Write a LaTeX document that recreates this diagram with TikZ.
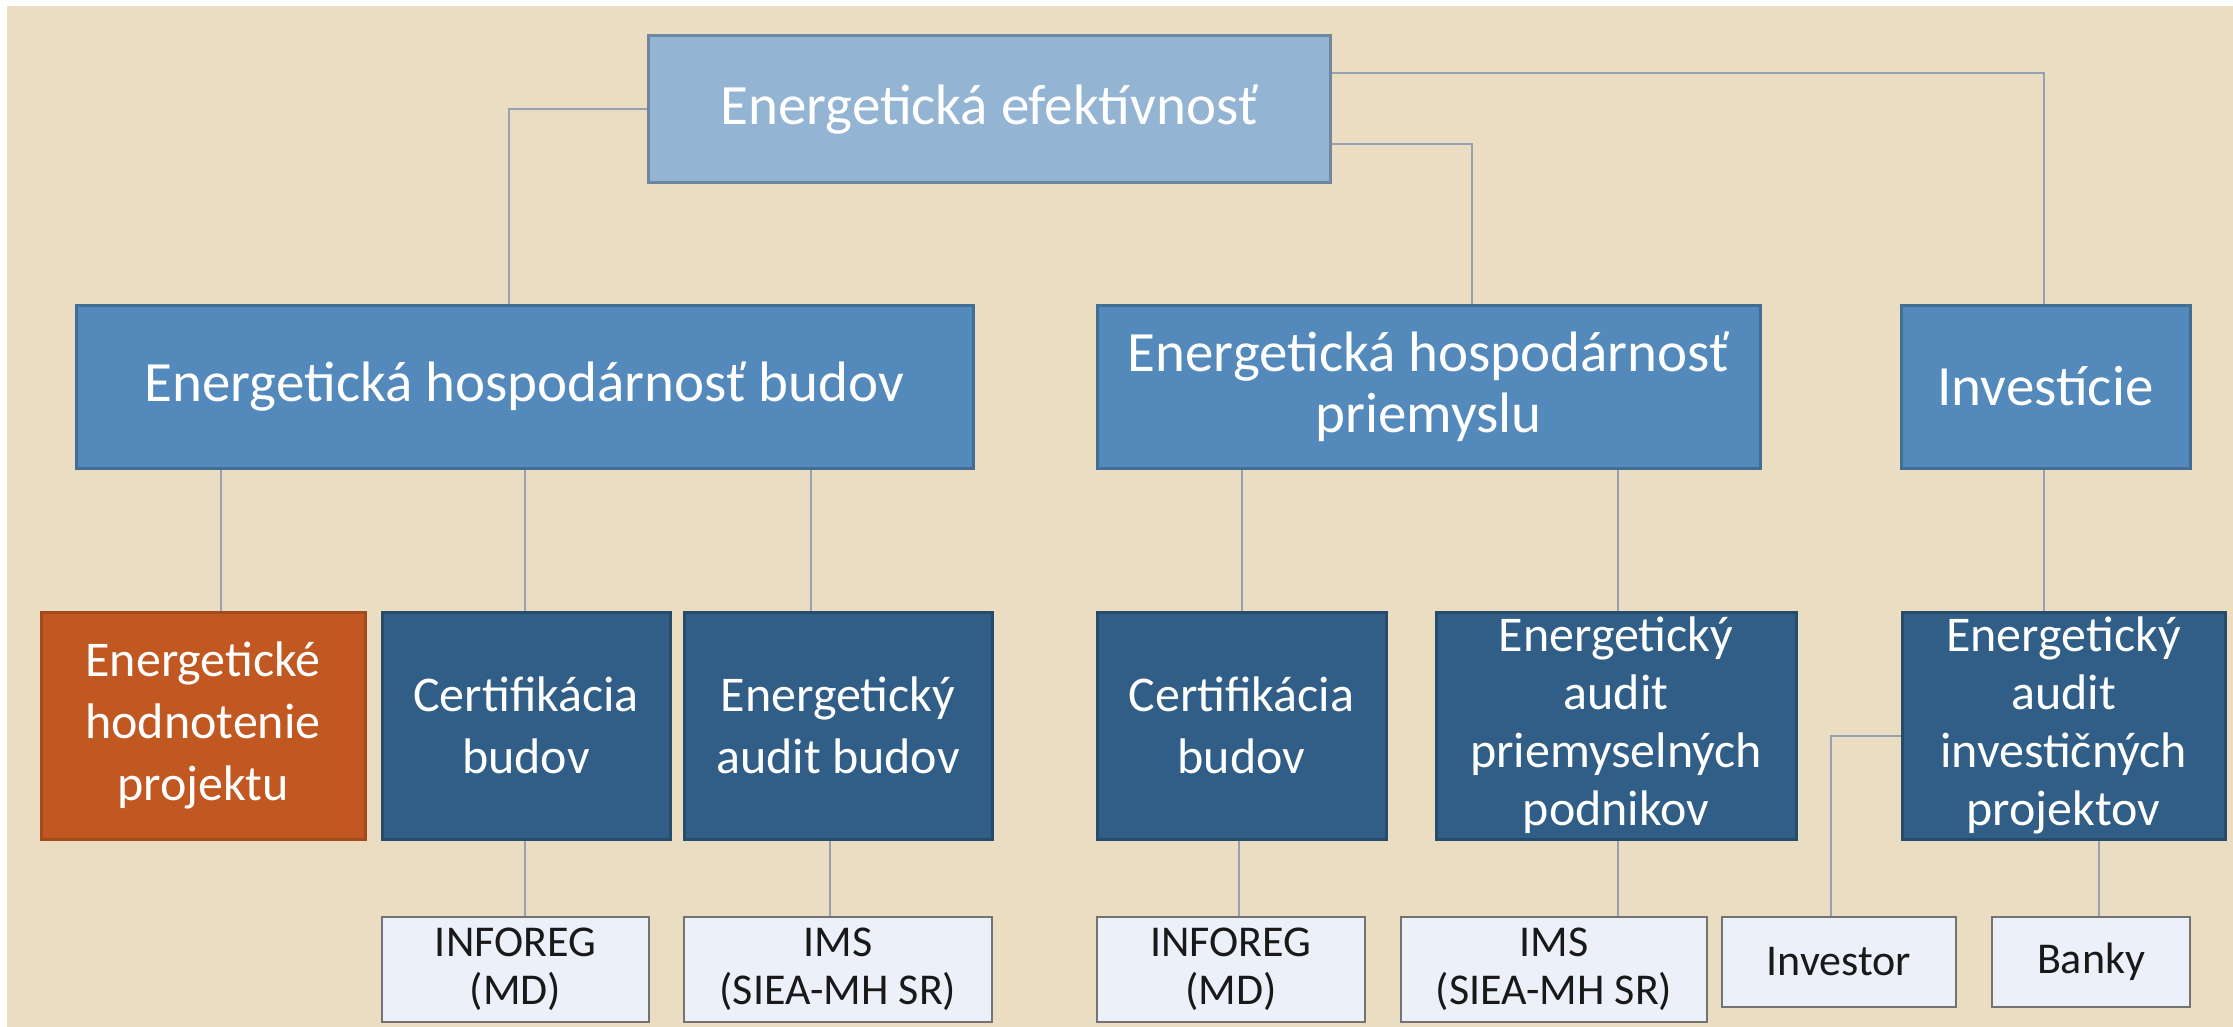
\documentclass[tikz,border=0pt]{standalone}
\usepackage{fontspec}
\setmainfont{Carlito}

\definecolor{paper}{RGB}{234,221,193}
\definecolor{rootblue}{RGB}{148,180,211}
\definecolor{midblue}{RGB}{83,137,187}
\definecolor{deepblue}{RGB}{48,94,134}
\definecolor{rust}{RGB}{193,88,34}
\definecolor{pale}{RGB}{236,241,249}
\definecolor{link}{RGB}{150,162,178}

\tikzset{
	box/.style={shape=rectangle, inner sep=0pt, align=center, line width=3pt},
	toplevel/.style={box, fill=rootblue, draw=rootblue!75!black, text=white, minimum height=147, font=\fontsize{57}{61}\selectfont},
	area/.style={box, fill=midblue, draw=midblue!80!black, text=white, minimum height=163, font=\fontsize{57}{61}\selectfont},
	task/.style={box, fill=deepblue, draw=deepblue!80!black, text=white, minimum height=227, font=\fontsize{50}{62}\selectfont},
	hot/.style={task, fill=rust, draw=rust!85!black},
	office/.style={box, fill=pale, draw=black!55, text=black!90, line width=2.5pt, font=\fontsize{44}{48}\selectfont},
	wire/.style={draw=link, line width=2pt}
}

\begin{document}
\begin{tikzpicture}[x=1pt,y=-1pt]
	\fill[white] (0,0) rectangle (2233,1027);
	\fill[paper] (7,6) rectangle (2233,1027);

	\node[toplevel, minimum width=682] (eef) at (989,109.5) {Energetická efektívnosť};

	\node[area, minimum width=897] (ehb) at (524.5,386.5) {Energetická hospodárnosť budov};
	\node[area, minimum width=663] (ehp) at (1428.5,386.5) {Energetická hospodárnosť\\priemyslu};
	\node[area, minimum width=289] (inv) at (2045.5,386.5) {Investície};

	\node[hot, minimum width=324] (ehpr) at (203,725.5) {Energetické\\hodnotenie\\projektu};
	\node[task, minimum width=288] (cb1) at (526,725.5) {Certifikácia\\budov};
	\node[task, minimum width=308] (eab) at (838,725.5) {Energetický\\audit budov};
	\node[task, minimum width=289] (cb2) at (1241.5,725.5) {Certifikácia\\budov};
	\node[task, minimum width=360, font=\fontsize{50}{58}\selectfont] (eapp) at (1616,725.5) {Energetický\\audit\\priemyselných\\podnikov};
	\node[task, minimum width=323, font=\fontsize{50}{58}\selectfont] (eaip) at (2063.5,725.5) {Energetický\\audit\\investičných\\projektov};

	\node[office, minimum width=267, minimum height=105] (inf1) at (515.5,969.5) {INFOREG\\(MD)};
	\node[office, minimum width=308, minimum height=105] (ims1) at (838,969.5) {IMS\\(SIEA-MH SR)};
	\node[office, minimum width=268, minimum height=105] (inf2) at (1231,969.5) {INFOREG\\(MD)};
	\node[office, minimum width=306, minimum height=105] (ims2) at (1554,969.5) {IMS\\(SIEA-MH SR)};
	\node[office, minimum width=234, minimum height=90] (ivr) at (1839,962) {Investor};
	\node[office, minimum width=198, minimum height=90] (bnk) at (2091,962) {Banky};

	% top level
	\draw[wire] (eef.west) -| ([xshift=-16pt]ehb.north);
	\draw[wire] ([yshift=-35pt]eef.east) -| ([xshift=43.5pt]ehp.north);
	\draw[wire] ([yshift=36.5pt]eef.east) -| ([xshift=-1.5pt]inv.north);

	% second level
	\draw[wire] ([xshift=18pt]ehpr.north) -- ([xshift=18pt]ehpr.north |- ehb.south);
	\draw[wire] ([xshift=-1pt]cb1.north) -- ([xshift=-1pt]cb1.north |- ehb.south);
	\draw[wire] ([xshift=-27pt]eab.north) -- ([xshift=-27pt]eab.north |- ehb.south);
	\draw[wire] (cb2.north) -- (cb2.north |- ehp.south);
	\draw[wire] ([xshift=2pt]eapp.north) -- ([xshift=2pt]eapp.north |- ehp.south);
	\draw[wire] ([xshift=-19.5pt]eaip.north) -- ([xshift=-19.5pt]eaip.north |- inv.south);

	% third level
	\draw[wire] ([xshift=9.5pt]inf1.north) -- ([xshift=9.5pt]inf1.north |- cb1.south);
	\draw[wire] ([xshift=-8pt]ims1.north) -- ([xshift=-8pt]ims1.north |- eab.south);
	\draw[wire] ([xshift=8pt]inf2.north) -- ([xshift=8pt]inf2.north |- cb2.south);
	\draw[wire] ([xshift=64pt]ims2.north) -- ([xshift=64pt]ims2.north |- eapp.south);
	\draw[wire] ([yshift=-10pt]eaip.west) -| ([xshift=-8pt]ivr.north);
	\draw[wire] ([xshift=8pt]bnk.north) -- ([xshift=8pt]bnk.north |- eaip.south);
\end{tikzpicture}
\end{document}
